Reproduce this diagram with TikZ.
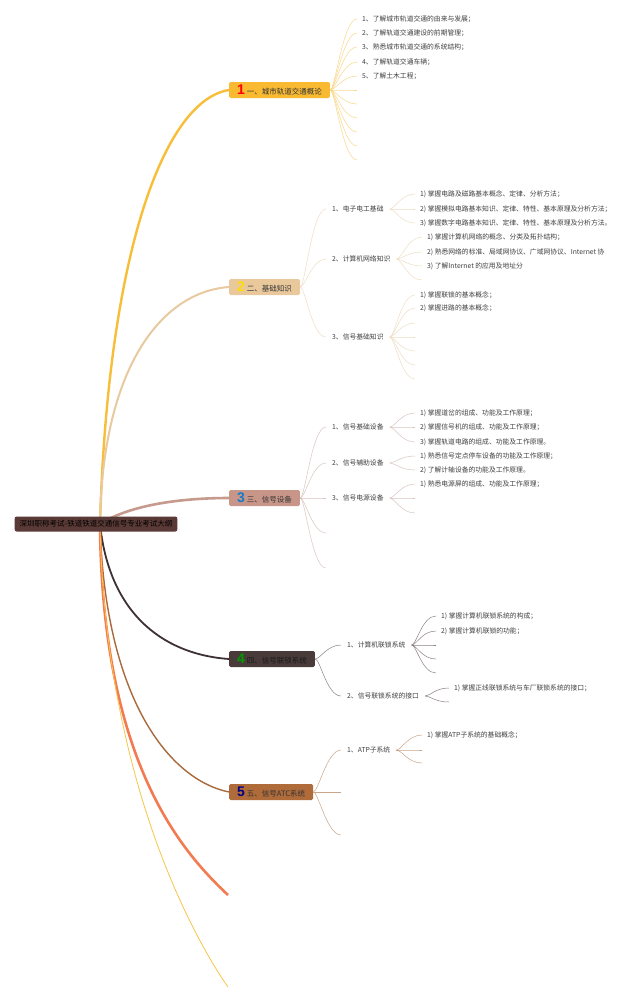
\documentclass[tikz,border=0pt]{standalone}
\usepackage{fontspec}
\setmainfont{Noto Sans CJK SC}
\newfontfamily\numfont{Liberation Sans}
\definecolor{rootc}{HTML}{5A3A36}
\definecolor{cA}{HTML}{F7BE3A}
\definecolor{cB}{HTML}{E8C9A0}
\definecolor{cC}{HTML}{C69A8D}
\definecolor{cD}{HTML}{3E3035}
\definecolor{cE}{HTML}{A86A3C}
\definecolor{cF}{HTML}{F27B52}
\definecolor{cG}{HTML}{F7C548}
\definecolor{boxA}{HTML}{F9BA32}
\definecolor{boxB}{HTML}{E9C89C}
\definecolor{boxC}{HTML}{C89689}
\definecolor{boxD}{HTML}{4A3B3B}
\definecolor{boxE}{HTML}{B06B3A}
\definecolor{brA}{HTML}{F9D88A}
\definecolor{brB}{HTML}{EFDDC4}
\definecolor{brC}{HTML}{D9C6C0}
\definecolor{brD}{HTML}{8C8282}
\definecolor{brE}{HTML}{C9A58A}
\newcommand{\tnum}[2]{{\numfont\bfseries\fontsize{14}{14}\selectfont\textcolor{#1}{#2}}\hspace{2pt}}
\newcommand{\fan}[3]{\draw[#1] (#2) .. controls +(5,0) and +(-14,0) .. (#3);}

\begin{document}
\begin{tikzpicture}[x=1pt,y=-1pt,
	root/.style={fill=rootc,rounded corners=2pt,inner xsep=5pt,minimum height=15pt,text=black,font=\fontsize{7.5}{8}\selectfont},
	topic/.style={rounded corners=1.5pt,anchor=west,inner xsep=8pt,inner ysep=0pt,minimum height=16pt,text=black!80,font=\fontsize{7.5}{8}\selectfont},
	sub/.style={anchor=west,inner xsep=6pt,inner ysep=1pt,text=black!75,font=\fontsize{6.8}{8}\selectfont},
	leaf/.style={anchor=west,inner xsep=5pt,inner ysep=1pt,text=black!75,font=\fontsize{6.8}{7}\selectfont},
	brA/.style={draw=brA,line width=0.5pt},
	brB/.style={draw=brB,line width=0.5pt},
	brC/.style={draw=brC,line width=0.5pt},
	brD/.style={draw=brD,line width=0.5pt},
	brE/.style={draw=brE,line width=0.5pt}]
	
	\fill[white] (0,0) rectangle (640,999);
	\useasboundingbox (0,0) rectangle (640,999);
	
	\coordinate (o) at (100,524);
	
	\node[topic,fill=boxA] (t1) at (229,90) {\tnum{red}{1}一、城市轨道交通概论};
	\node[topic,fill=boxB] (t2) at (229,287) {\tnum{yellow!80!orange}{2}二、基础知识};
	\node[topic,fill=boxC] (t3) at (229,498) {\tnum{cyan!60!blue}{3}三、信号设备};
	\node[topic,fill=boxD,text=black!90] (t4) at (229,659) {\tnum{green!60!black}{4}四、信号联锁系统};
	\node[topic,fill=boxE] (t5) at (229,792) {\tnum{blue!50!black}{5}五、信号ATC系统};
	\coordinate (t6) at (228,895);
	\coordinate (t7) at (228,987);
	
	\draw[cA,line width=2.4pt] (o) .. controls (108,250) and (165,100) .. (t1.west);
	\draw[cB,line width=2pt] (o) .. controls (102,370) and (160,292) .. (t2.west);
	\draw[cC,line width=2.6pt] (o) .. controls (130,505) and (180,498) .. (t3.west);
	\draw[cD,line width=1.8pt] (o) .. controls (110,620) and (170,655) .. (t4.west);
	\draw[cE,line width=1.4pt] (o) .. controls (105,700) and (170,780) .. (t5.west);
	\draw[cF,line width=2.6pt] (o) .. controls (102,760) and (180,850) .. (t6);
	\draw[cG,line width=0.8pt] (o) .. controls (105,780) and (195,940) .. (t7);
	
	\node[root] (root) at (96,524) {深圳职称考试-铁道铁道交通信号专业考试大纲};
	
	% 一
	\node[leaf] (l11) at (357,19) {1、了解城市轨道交通的由来与发展；};
	\node[leaf] (l12) at (357,33) {2、了解轨道交通建设的前期管理；};
	\node[leaf] (l13) at (357,47) {3、熟悉城市轨道交通的系统结构；};
	\node[leaf] (l14) at (357,62) {4、了解轨道交通车辆；};
	\node[leaf] (l15) at (357,76) {5、了解土木工程；};
	\foreach \n in {1,...,5} {\fan{brA}{t1.east}{l1\n.west}}
	\foreach \y [count=\i from 6] in {90,104,118,132,146,160} {
		\coordinate (e1\i) at (357,\y);
		\fan{brA}{t1.east}{e1\i}
	}
	
	% 二
	\node[sub] (s21) at (326,209) {1、电子电工基础};
	\node[sub] (s22) at (326,259) {2、计算机网络知识};
	\node[sub] (s23) at (326,337) {3、信号基础知识};
	\foreach \n in {1,2,3} {\fan{brB}{t2.east}{s2\n.west}}
	
	\node[leaf] (l211) at (415,194) {1) 掌握电路及磁路基本概念、定律、分析方法；};
	\node[leaf] (l212) at (415,209) {2) 掌握模拟电路基本知识、定律、特性、基本原理及分析方法；};
	\node[leaf] (l213) at (415,223) {3) 掌握数字电路基本知识、定律、特性、基本原理及分析方法。};
	\foreach \n in {1,2,3} {\fan{brB}{s21.east}{l21\n.west}}
	
	\node[leaf] (l221) at (422,237) {1) 掌握计算机网络的概念、分类及拓扑结构；};
	\node[leaf] (l222) at (422,252) {2) 熟悉网络的标准、局域网协议、广域网协议、Internet 协};
	\node[leaf] (l223) at (422,266) {3) 了解Internet 的应用及地址分};
	\coordinate (e224) at (422,280);
	\foreach \n in {1,2,3} {\fan{brB}{s22.east}{l22\n.west}}
	\fan{brB}{s22.east}{e224}
	
	\node[leaf] (l231) at (415,295) {1) 掌握联锁的基本概念；};
	\node[leaf] (l232) at (415,308) {2) 掌握进路的基本概念；};
	\foreach \n in {1,2} {\fan{brB}{s23.east}{l23\n.west}}
	\foreach \y [count=\i from 3] in {323,337,351,365,379} {
		\coordinate (e23\i) at (415,\y);
		\fan{brB}{s23.east}{e23\i}
	}
	
	% 三
	\node[sub] (s31) at (326,427) {1、信号基础设备};
	\node[sub] (s32) at (326,463) {2、信号辅助设备};
	\node[sub] (s33) at (326,498) {3、信号电源设备};
	\coordinate (e34) at (326,533);
	\coordinate (e35) at (326,568);
	\foreach \n in {1,2,3} {\fan{brC}{t3.east}{s3\n.west}}
	\fan{brC}{t3.east}{e34}
	\fan{brC}{t3.east}{e35}
	
	\node[leaf] (l311) at (415,413) {1) 掌握道岔的组成、功能及工作原理；};
	\node[leaf] (l312) at (415,427) {2) 掌握信号机的组成、功能及工作原理；};
	\node[leaf] (l313) at (415,442) {3) 掌握轨道电路的组成、功能及工作原理。};
	\foreach \n in {1,2,3} {\fan{brC}{s31.east}{l31\n.west}}
	
	\node[leaf] (l321) at (415,456) {1) 熟悉信号定点停车设备的功能及工作原理；};
	\node[leaf] (l322) at (415,470) {2) 了解计轴设备的功能及工作原理。};
	\foreach \n in {1,2} {\fan{brC}{s32.east}{l32\n.west}}
	
	\node[leaf] (l331) at (415,484) {1) 熟悉电源屏的组成、功能及工作原理；};
	\coordinate (e332) at (415,498);
	\coordinate (e333) at (415,513);
	\fan{brC}{s33.east}{l331.west}
	\fan{brC}{s33.east}{e332}
	\fan{brC}{s33.east}{e333}
	
	% 四
	\node[sub] (s41) at (341,645) {1、计算机联锁系统};
	\node[sub] (s42) at (341,696) {2、信号联锁系统的接口};
	\fan{brD}{t4.east}{s41.west}
	\fan{brD}{t4.east}{s42.west}
	
	\node[leaf] (l411) at (436,616) {1) 掌握计算机联锁系统的构成；};
	\node[leaf] (l412) at (436,631) {2) 掌握计算机联锁的功能；};
	\foreach \n in {1,2} {\fan{brD}{s41.east}{l41\n.west}}
	\foreach \y [count=\i from 3] in {645,659,673} {
		\coordinate (e41\i) at (436,\y);
		\fan{brD}{s41.east}{e41\i}
	}
	
	\node[leaf] (l421) at (449,688) {1) 掌握正线联锁系统与车厂联锁系统的接口；};
	\coordinate (e422) at (449,702);
	\fan{brD}{s42.east}{l421.west}
	\fan{brD}{s42.east}{e422}
	
	% 五
	\node[sub] (s51) at (341,750) {1、ATP子系统};
	\coordinate (e52) at (341,792);
	\coordinate (e53) at (341,835);
	\fan{brE}{t5.east}{s51.west}
	\fan{brE}{t5.east}{e52}
	\fan{brE}{t5.east}{e53}
	
	\node[leaf] (l511) at (422,735) {1) 掌握ATP子系统的基础概念；};
	\coordinate (e512) at (422,750);
	\coordinate (e513) at (422,763);
	\fan{brE}{s51.east}{l511.west}
	\fan{brE}{s51.east}{e512}
	\fan{brE}{s51.east}{e513}
	
\end{tikzpicture}
\end{document}
